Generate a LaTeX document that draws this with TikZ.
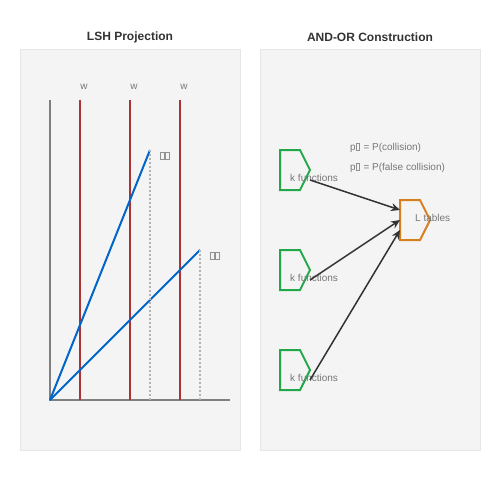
\documentclass[tikz,border=0pt]{standalone}
\usepackage{fontspec}
\setmainfont{Liberation Sans}
\usetikzlibrary{arrows.meta}

\definecolor{panelbg}{HTML}{F4F4F4}
\definecolor{panelline}{HTML}{E6E6E6}
\definecolor{titlecol}{HTML}{333333}
\definecolor{lblcol}{HTML}{777777}
\definecolor{binred}{HTML}{AA3333}
\definecolor{projblue}{HTML}{0066CC}
\definecolor{andgreen}{HTML}{22A84A}
\definecolor{ororange}{HTML}{D67F1F}
\definecolor{arrowcol}{HTML}{333333}

% 缺字方框
\newcommand{\tofu}{{\color{lblcol!80}\setlength{\fboxsep}{0pt}\setlength{\fboxrule}{0.7pt}\fbox{\rule{0pt}{6.5pt}\hspace{3pt}}\hspace{0.6pt}}}

\begin{document}
\begin{tikzpicture}[x=1pt,y=-1pt,
    panel/.style={fill=panelbg,draw=panelline,line width=1pt},
    title/.style={font=\bfseries\fontsize{12}{14}\selectfont,text=titlecol},
    lbl/.style={font=\fontsize{10}{12}\selectfont,text=lblcol,inner sep=0pt},
    hashfn/.style={draw=andgreen,line width=2pt,line join=miter},
    table/.style={draw=ororange,line width=2pt,line join=miter},
    faint/.style={draw=gray!60,line width=1.8pt,dash pattern=on 2pt off 2pt},
    >={Stealth[length=9pt,width=8pt]},
    link/.style={->,draw=arrowcol,fill=arrowcol,line width=1.5pt}
]
\useasboundingbox (0,0) rectangle (500,500);

%------------------------ 两个面板 ------------------------
\draw[panel] (20,50) rectangle (240,450);
\draw[panel] (260,50) rectangle (480,450);
\node[title] (t1) at (130,37) {LSH Projection};
\node[title] (t2) at (370,37) {AND-OR Construction};

%------------------------ 左:投影 ------------------------
\coordinate (O) at (50,400);
\draw[gray,line width=1.8pt] (50,100) -- (O) -- (230,400);

% 分桶线,宽 w
\foreach \x/\n in {80/1,130/2,180/3}{
  \draw[binred,line width=2pt] (\x,100) -- (\x,400);
  \node[lbl] (w\n) at (\x+4,87) {w};
}

% 两个向量及其投影
\coordinate (V1) at (150,150);
\coordinate (V2) at (200,250);
\draw[projblue,line width=2pt] (O) -- (V1);
\draw[projblue,line width=2pt] (O) -- (V2);
\draw[faint] (V1) -- (150,400);
\draw[faint] (V2) -- (200,400);
\node[lbl,anchor=west] (v1) at (160,156) {\tofu\tofu};
\node[lbl,anchor=west] (v2) at (210,256) {\tofu\tofu};

%------------------------ 右:AND-OR ------------------------
\foreach \y/\n in {150/1,250/2,350/3}{
  \draw[hashfn] (280,\y) -- (300,\y) -- (310,\y+20) -- (300,\y+40) -- (280,\y+40) -- cycle;
  \node[lbl,anchor=west] (k\n) at (290,\y+27.5) {k functions};
  \coordinate (s\n) at (310,\y+30);
}

\draw[table] (400,200) -- (420,200) -- (430,220) -- (420,240) -- (400,240) -- cycle;
\node[lbl,anchor=west] (L) at (415,217.5) {L tables};
\coordinate (e1) at (400,210);
\coordinate (e2) at (400,220);
\coordinate (e3) at (400,230);

\foreach \n in {1,2,3}
  \draw[link] (s\n) -- (e\n);

\node[lbl,anchor=west] (p1) at (350,147.5) {p\tofu{} = P(collision)};
\node[lbl,anchor=west] (p2) at (350,167.5) {p\tofu{} = P(false collision)};

\end{tikzpicture}
\end{document}
